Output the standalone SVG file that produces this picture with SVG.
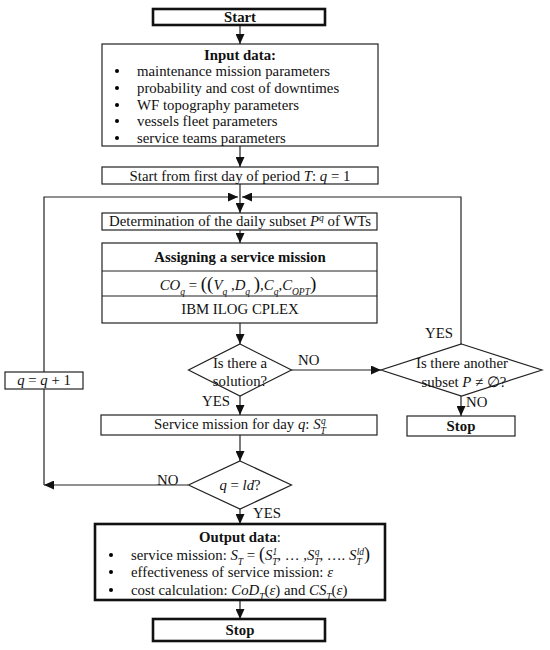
<svg xmlns="http://www.w3.org/2000/svg" width="550" height="650" viewBox="0 0 550 650" font-family="'Liberation Serif', 'DejaVu Serif', serif">
<style>
text{font-family:"Liberation Serif","DejaVu Serif",serif;font-size:14.8px;fill:#111}
.c{text-anchor:middle}
.b{font-weight:bold}
.i{font-style:italic}
.box{fill:#fff;stroke:#222;stroke-width:1.2}
.thick{fill:#fff;stroke:#111;stroke-width:2.6}
.ln{fill:none;stroke:#222;stroke-width:1.2}
.sm{font-size:9.5px}
</style>
<defs>
<marker id="ah" markerUnits="userSpaceOnUse" markerWidth="10" markerHeight="9" refX="10" refY="4.5" orient="auto">
<path d="M0,0 L10,4.5 L0,9 z" fill="#111"/>
</marker>
</defs>
<rect width="550" height="650" fill="#fff"/>
<g id="connectors">
<line class="ln" x1="240" y1="25" x2="240" y2="44" marker-end="url(#ah)"/>
<line class="ln" x1="240" y1="146" x2="240" y2="167" marker-end="url(#ah)"/>
<line class="ln" x1="240" y1="184" x2="240" y2="213" marker-end="url(#ah)"/>
<line class="ln" x1="240" y1="230" x2="240" y2="243" marker-end="url(#ah)"/>
<line class="ln" x1="240" y1="323" x2="240" y2="344" marker-end="url(#ah)"/>
<line class="ln" x1="291" y1="370" x2="381" y2="370" marker-end="url(#ah)"/>
<polyline class="ln" points="461,344 461,197 242,197" marker-end="url(#ah)"/>
<line class="ln" x1="461" y1="396" x2="461" y2="416" marker-end="url(#ah)"/>
<line class="ln" x1="240" y1="396" x2="240" y2="415" marker-end="url(#ah)"/>
<line class="ln" x1="240" y1="435" x2="240" y2="461" marker-end="url(#ah)"/>
<line class="ln" x1="188" y1="485" x2="44" y2="485" marker-end="url(#ah)"/>
<line class="ln" x1="44" y1="485" x2="44" y2="389"/>
<polyline class="ln" points="44,372 44,197 238,197" marker-end="url(#ah)"/>
<line class="ln" x1="240" y1="509" x2="240" y2="524" marker-end="url(#ah)"/>
<line class="ln" x1="240" y1="600" x2="240" y2="619" marker-end="url(#ah)"/>
<text x="298" y="365">NO</text>
<text x="425" y="338">YES</text>
<text x="466" y="407">NO</text>
<text x="202" y="406">YES</text>
<text x="157" y="485">NO</text>
<text x="253" y="518">YES</text>
</g>
<g id="start">
<rect class="thick" x="153" y="9" width="172" height="16"/>
<text class="c b" x="240" y="22">Start</text>
</g>
<g id="input">
<rect class="box" x="102" y="44" width="276" height="102"/>
<text class="c b" x="240" y="60">Input data:</text>
<g>
<circle cx="117" cy="71" r="2"/><circle cx="117" cy="88" r="2"/><circle cx="117" cy="105" r="2"/><circle cx="117" cy="121" r="2"/><circle cx="117" cy="138" r="2"/>
</g>
<text x="137" y="76">maintenance mission parameters</text>
<text x="137" y="93">probability and cost of downtimes</text>
<text x="137" y="110">WF topography parameters</text>
<text x="137" y="126">vessels fleet parameters</text>
<text x="137" y="143">service teams parameters</text>
</g>
<g id="startday">
<rect class="box" x="102" y="167" width="276" height="17"/>
<text class="c" x="240" y="181">Start from first day of period <tspan class="i">T</tspan>: <tspan class="i">q</tspan> = 1</text>
</g>
<g id="determination">
<rect class="box" x="102" y="213" width="275" height="17"/>
<text class="c" x="240" y="226">Determination of the daily subset <tspan class="i">P</tspan><tspan class="i sm" baseline-shift="super">q</tspan> of WTs</text>
</g>
<g id="assigning">
<rect class="box" x="102" y="243" width="275" height="80"/>
<line class="ln" x1="102" y1="271" x2="377" y2="271"/>
<line class="ln" x1="102" y1="296" x2="377" y2="296"/>
<text class="c b" x="240" y="262">Assigning a service mission</text>
<text class="c" x="238" y="290"><tspan class="i">CO</tspan><tspan class="i sm" baseline-shift="sub">q</tspan>   = <tspan font-size="19">((</tspan><tspan class="i">V</tspan><tspan class="i sm" baseline-shift="sub">q</tspan> ,<tspan class="i">D</tspan><tspan class="i sm" baseline-shift="sub">q</tspan> <tspan font-size="19">)</tspan>,<tspan class="i">C</tspan><tspan class="i sm" baseline-shift="sub">q</tspan>,<tspan class="i">C</tspan><tspan class="i sm" baseline-shift="sub">OPT</tspan><tspan font-size="19">)</tspan></text>
<text class="c" x="240" y="314">IBM ILOG CPLEX</text>
</g>
<g id="decision1">
<polygon class="box" points="240,344 291.5,370 240,396 188.5,370"/>
<text class="c" x="240" y="368">Is there a</text>
<text class="c" x="240" y="386">solution?</text>
</g>
<g id="decision2">
<polygon class="box" points="461.5,344 542,370 461.5,396 381,370"/>
<text class="c" x="462" y="368">Is there another</text>
<text class="c" x="464" y="387">subset  <tspan class="i">P</tspan> ≠ ∅?</text>
</g>
<g id="stop1">
<rect class="box" x="407" y="416" width="108" height="20"/>
<text class="c b" x="461" y="431">Stop</text>
</g>
<g id="increment">
<rect class="box" x="5" y="372" width="78" height="17"/>
<text class="c" x="44" y="385"><tspan class="i">q</tspan> = <tspan class="i">q</tspan> + 1</text>
</g>
<g id="servicemission">
<rect class="box" x="101" y="415" width="276" height="20"/>
<text class="c" x="240" y="429">Service mission for day <tspan class="i">q</tspan>: <tspan class="i">S</tspan><tspan class="i sm" baseline-shift="sub">T</tspan><tspan class="i sm" dx="-5" baseline-shift="super">q</tspan></text>
</g>
<g id="decision3">
<polygon class="box" points="240,461 291.5,485 240,509 188.5,485"/>
<text class="c" x="240" y="490"><tspan class="i">q</tspan> = <tspan class="i">ld</tspan>?</text>
</g>
<g id="output">
<rect class="thick" x="95" y="524" width="290" height="76"/>
<text class="c" x="240" y="542"><tspan class="b">Output data</tspan>:</text>
<circle cx="111" cy="555" r="2"/><circle cx="111" cy="572" r="2"/><circle cx="111" cy="590" r="2"/>
<text x="131" y="560">service mission: <tspan class="i">S</tspan><tspan class="i sm" baseline-shift="sub">T</tspan> = <tspan font-size="18">(</tspan><tspan class="i">S</tspan><tspan class="i sm" baseline-shift="sub">T</tspan><tspan class="i sm" dx="-5" baseline-shift="super">1</tspan>, … ,<tspan class="i">S</tspan><tspan class="i sm" baseline-shift="sub">T</tspan><tspan class="i sm" dx="-5" baseline-shift="super">q</tspan>, …. <tspan class="i">S</tspan><tspan class="i sm" baseline-shift="sub">T</tspan><tspan class="i sm" dx="-5" baseline-shift="super">ld</tspan><tspan font-size="18">)</tspan></text>
<text x="131" y="577">effectiveness of service mission: <tspan class="i">ε</tspan></text>
<text x="131" y="595">cost calculation: <tspan class="i">CoD</tspan><tspan class="i sm" baseline-shift="sub">T</tspan>(<tspan class="i">ε</tspan>) and <tspan class="i">CS</tspan><tspan class="i sm" baseline-shift="sub">T</tspan>(<tspan class="i">ε</tspan>)</text>
</g>
<g id="stop2">
<rect class="thick" x="153" y="619" width="172" height="22"/>
<text class="c b" x="240" y="635">Stop</text>
</g>
</svg>
